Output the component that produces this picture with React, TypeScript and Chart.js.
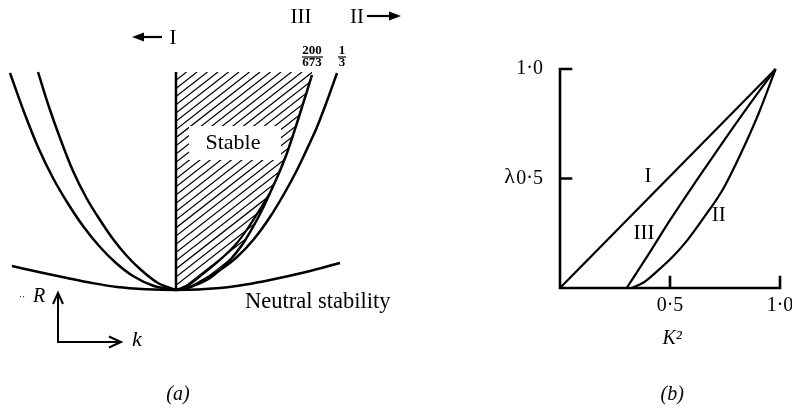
import React, { useEffect, useRef } from "react";
import { Chart, registerables } from "chart.js";
Chart.register(...registerables);

// ---------- Panel (a): curves in the (k, R) plane ----------
const neutralK = [-1.64, -1.35, -1.09, -0.84, -0.59, -0.3, 0, 0.44, 0.7, 0.94, 1.3, 1.64];
const neutralR = [0.24, 0.175, 0.12, 0.07, 0.03, 0.008, 0, 0.02, 0.055, 0.1, 0.18, 0.27];

// curve I (outer, left)
const outerLeftK = [-1.66, -1.52, -1.38, -1.23, -1.09, -0.93, -0.76, -0.6, -0.43, -0.22, 0];
const outerLeftR = [2.17, 1.78, 1.43, 1.12, 0.88, 0.64, 0.43, 0.27, 0.14, 0.04, 0];

// curve I (inner, left)
const innerLeftK = [-1.38, -1.27, -1.16, -1.03, -0.89, -0.76, -0.63, -0.5, -0.36, -0.18, 0];
const innerLeftR = [2.18, 1.83, 1.52, 1.19, 0.91, 0.7, 0.51, 0.35, 0.21, 0.07, 0];

// curve III (200/673), right boundary of the stable (hatched) region
const curveIIIK = [0, 0.14, 0.34, 0.54, 0.66, 0.77, 0.86, 0.94, 1.03, 1.11, 1.21, 1.36];
const curveIIIR = [0, 0.03, 0.12, 0.3, 0.45, 0.63, 0.8, 0.97, 1.17, 1.37, 1.67, 2.15];

// short curve inside the hatched region
const innerRightK = [0, 0.14, 0.27, 0.45, 0.61, 0.72, 0.81, 0.94];
const innerRightR = [0, 0.06, 0.16, 0.31, 0.47, 0.62, 0.76, 0.97];

// curve 1/3
const outerRightK = [0, 0.14, 0.27, 0.44, 0.61, 0.78, 0.94, 1.08, 1.21, 1.31, 1.41, 1.51, 1.61];
const outerRightR = [0, 0.03, 0.1, 0.2, 0.33, 0.51, 0.73, 0.96, 1.2, 1.41, 1.63, 1.89, 2.17];

const axisK = [0, 0];
const axisR = [0, 2.18];

// ---------- Panel (b): lambda vs K^2 ----------
const lineIK2 = [0, 0.98];
const lineILam = [0, 1.0];

const lineIIIK2 = [0.303, 0.4, 0.5, 0.62, 0.75, 0.87, 0.98];
const lineIIILam = [0, 0.15, 0.31, 0.49, 0.68, 0.85, 1.0];

const lineIIK2 = [0.326, 0.38, 0.44, 0.51, 0.58, 0.66, 0.74, 0.82, 0.9, 0.98];
const lineIILam = [0, 0.025, 0.075, 0.14, 0.22, 0.33, 0.45, 0.61, 0.79, 1.0];

const xTickValues = [0.5, 1.0];
const xTickLabels = ["0·5", "1·0"];
const yTickValues = [0.5, 1.0];
const yTickLabels = ["0·5", "1·0"];

const SERIF = '"Liberation Serif", "DejaVu Serif", serif';

function pts(xs: number[], ys: number[]) {
  return xs.map((x, i) => ({ x, y: ys[i] }));
}

function lineDs(xs: number[], ys: number[], width: number, smooth = true) {
  return {
    data: pts(xs, ys),
    showLine: true,
    borderColor: "#000",
    backgroundColor: "#000",
    borderWidth: width,
    pointRadius: 0,
    tension: smooth ? 0.4 : 0,
    cubicInterpolationMode: smooth ? "monotone" : "default",
    fill: false,
    clip: false as any,
  };
}

function text(ctx: CanvasRenderingContext2D, s: string, x: number, y: number, size: number, opts: { italic?: boolean; bold?: boolean; align?: CanvasTextAlign } = {}) {
  ctx.save();
  ctx.fillStyle = "#000";
  ctx.font = `${opts.italic ? "italic " : ""}${opts.bold ? "bold " : ""}${size}px ${SERIF}`;
  ctx.textAlign = opts.align || "center";
  ctx.textBaseline = "middle";
  ctx.fillText(s, x, y);
  ctx.restore();
}

function seg(ctx: CanvasRenderingContext2D, x1: number, y1: number, x2: number, y2: number, w: number) {
  ctx.save();
  ctx.strokeStyle = "#000";
  ctx.lineWidth = w;
  ctx.lineCap = "butt";
  ctx.beginPath();
  ctx.moveTo(x1, y1);
  ctx.lineTo(x2, y2);
  ctx.stroke();
  ctx.restore();
}

function tri(ctx: CanvasRenderingContext2D, p: number[][]) {
  ctx.save();
  ctx.fillStyle = "#000";
  ctx.beginPath();
  ctx.moveTo(p[0][0], p[0][1]);
  ctx.lineTo(p[1][0], p[1][1]);
  ctx.lineTo(p[2][0], p[2][1]);
  ctx.closePath();
  ctx.fill();
  ctx.restore();
}

const III_INDEX = 3;

const hatchPlugin = {
  id: "hatchStable",
  beforeDatasetsDraw(chart: any) {
    const ctx: CanvasRenderingContext2D = chart.ctx;
    const xs = chart.scales.x;
    const ys = chart.scales.y;
    const meta = chart.getDatasetMeta(III_INDEX);
    const line = meta.dataset;
    const x0 = xs.getPixelForValue(0);
    const yb = ys.getPixelForValue(0);
    const yt = ys.getPixelForValue(axisR[1]);
    const xr = xs.getPixelForValue(Math.max(...curveIIIK)) + 4;
    ctx.save();
    ctx.beginPath();
    if (line && typeof line.path === "function") {
      if (typeof line.updateControlPoints === "function") line.updateControlPoints(chart.chartArea, "x");
      line.path(ctx);
    } else {
      curveIIIK.forEach((k, i) => {
        const px = xs.getPixelForValue(k), py = ys.getPixelForValue(curveIIIR[i]);
        if (i === 0) ctx.moveTo(px, py); else ctx.lineTo(px, py);
      });
    }
    ctx.lineTo(xs.getPixelForValue(curveIIIK[curveIIIK.length - 1]), yt);
    ctx.lineTo(x0, yt);
    ctx.closePath();
    ctx.clip();
    ctx.strokeStyle = "#000";
    ctx.lineWidth = 1.2;
    const slope = Math.tan((38 * Math.PI) / 180);
    const h = yb - yt;
    const run = h / slope;
    const spacing = 10.5;
    ctx.beginPath();
    for (let c = x0 - run; c < xr; c += spacing) {
      ctx.moveTo(c, yb);
      ctx.lineTo(c + run, yt);
    }
    ctx.stroke();
    ctx.restore();
    // white box behind the "Stable" label
    ctx.save();
    ctx.fillStyle = "#fff";
    ctx.fillRect(189, 126, 92, 34);
    ctx.restore();
  },
};

const annotA = {
  id: "annotA",
  afterDraw(chart: any) {
    const ctx: CanvasRenderingContext2D = chart.ctx;
    text(ctx, "Stable", 233, 143, 22);
    text(ctx, "Neutral stability", 245, 302, 22.5, { align: "left" });
    // curve labels at the top
    seg(ctx, 140, 37, 162, 37, 2.2);
    tri(ctx, [[132, 37], [144, 32.5], [144, 41.5]]);
    text(ctx, "I", 173, 38, 21);
    text(ctx, "III", 301, 17, 21);
    text(ctx, "II", 357, 17, 21);
    seg(ctx, 367, 16, 392, 16, 2.2);
    tri(ctx, [[401, 16], [389, 11.5], [389, 20.5]]);
    // fractions
    text(ctx, "200", 312, 51, 13, { bold: true });
    seg(ctx, 302, 57, 323, 57, 1.2);
    text(ctx, "673", 312, 63, 13, { bold: true });
    text(ctx, "1", 342, 51, 13, { bold: true });
    seg(ctx, 338, 57, 346, 57, 1.2);
    text(ctx, "3", 342, 63, 13, { bold: true });
    // R / k direction arrows
    seg(ctx, 58, 343, 58, 294, 2);
    seg(ctx, 57, 342, 120, 342, 2);
    ctx.save();
    ctx.strokeStyle = "#000";
    ctx.lineWidth = 2;
    ctx.beginPath();
    ctx.moveTo(53, 304); ctx.lineTo(58, 293); ctx.lineTo(63, 304);
    ctx.moveTo(109, 336.5); ctx.lineTo(121, 342); ctx.lineTo(109, 347.5);
    ctx.stroke();
    ctx.restore();
    text(ctx, "··", 22, 297, 10);
    text(ctx, "R", 39, 297, 20, { italic: true });
    text(ctx, "k", 137, 340, 22, { italic: true });
    text(ctx, "(a)", 178, 395, 20, { italic: true });
  },
};

const axesB = {
  id: "axesB",
  beforeDatasetsDraw(chart: any) {
    const ctx: CanvasRenderingContext2D = chart.ctx;
    const xs = chart.scales.x;
    const ys = chart.scales.y;
    const x0 = xs.getPixelForValue(0);
    const y0 = ys.getPixelForValue(0);
    const x1 = xs.getPixelForValue(1);
    const y1 = ys.getPixelForValue(1);
    ctx.save();
    ctx.strokeStyle = "#000";
    ctx.lineWidth = 2.6;
    ctx.lineCap = "square";
    ctx.beginPath();
    ctx.moveTo(x0, y1);
    ctx.lineTo(x0, y0);
    ctx.lineTo(x1, y0);
    yTickValues.forEach((v) => {
      const py = ys.getPixelForValue(v);
      ctx.moveTo(x0, py);
      ctx.lineTo(x0 + 11, py);
    });
    xTickValues.forEach((v) => {
      const px = xs.getPixelForValue(v);
      ctx.moveTo(px, y0);
      ctx.lineTo(px, y0 - 11);
    });
    ctx.stroke();
    ctx.restore();
  },
  afterDraw(chart: any) {
    const ctx: CanvasRenderingContext2D = chart.ctx;
    const xs = chart.scales.x;
    const ys = chart.scales.y;
    const x0 = xs.getPixelForValue(0);
    const y0 = ys.getPixelForValue(0);
    yTickValues.forEach((v, i) => {
      text(ctx, yTickLabels[i], x0 - 17, ys.getPixelForValue(v), 20, { align: "right" });
    });
    xTickValues.forEach((v, i) => {
      text(ctx, xTickLabels[i], xs.getPixelForValue(v), y0 + 18, 20);
    });
    text(ctx, "λ", x0 - 45, ys.getPixelForValue(0.5) - 1, 22, { align: "right" });
    text(ctx, "K²", xs.getPixelForValue(0.51), y0 + 51, 20, { italic: true });
    text(ctx, "(b)", xs.getPixelForValue(0.51), 395, 20, { italic: true });
    text(ctx, "I", xs.getPixelForValue(0.4), ys.getPixelForValue(0.507), 21);
    text(ctx, "III", xs.getPixelForValue(0.382), ys.getPixelForValue(0.25), 21);
    text(ctx, "II", xs.getPixelForValue(0.722), ys.getPixelForValue(0.333), 21);
  },
};

export default function App() {
  const refA = useRef<HTMLCanvasElement>(null);
  const refB = useRef<HTMLCanvasElement>(null);

  useEffect(() => {
    const common = {
      animation: false as const,
      responsive: false,
      maintainAspectRatio: false,
      events: [] as any[],
      plugins: { legend: { display: false }, tooltip: { enabled: false }, title: { display: false } },
    };
    const chartA = new Chart(refA.current as HTMLCanvasElement, {
      type: "scatter",
      data: {
        datasets: [
          lineDs(neutralK, neutralR, 2.5),
          lineDs(outerLeftK, outerLeftR, 2.5),
          lineDs(innerLeftK, innerLeftR, 2.5),
          lineDs(curveIIIK, curveIIIR, 2.5),
          lineDs(innerRightK, innerRightR, 2.2),
          lineDs(outerRightK, outerRightR, 2.5),
          lineDs(axisK, axisR, 2.5, false),
        ] as any,
      },
      options: {
        ...common,
        layout: { padding: 0 },
        scales: {
          x: { type: "linear", display: false, min: -1.76, max: 3.04 },
          y: { type: "linear", display: false, min: -1.27, max: 2.9 },
        },
      } as any,
      plugins: [hatchPlugin, annotA],
    });
    const chartB = new Chart(refB.current as HTMLCanvasElement, {
      type: "scatter",
      data: {
        datasets: [
          lineDs(lineIK2, lineILam, 2.2, false),
          lineDs(lineIIIK2, lineIIILam, 2.2),
          lineDs(lineIIK2, lineIILam, 2.2),
        ] as any,
      },
      options: {
        ...common,
        layout: { padding: { left: 80, right: 12, top: 69, bottom: 129 } },
        scales: {
          x: { type: "linear", display: false, min: 0, max: 1 },
          y: { type: "linear", display: false, min: 0, max: 1 },
        },
      } as any,
      plugins: [axesB],
    });
    return () => {
      chartA.destroy();
      chartB.destroy();
    };
  }, []);

  return (
    <div style={{ position: "absolute", left: 0, top: 0, width: 792, height: 417, background: "#fff" }}>
      <canvas ref={refA} width={480} height={417} style={{ position: "absolute", left: 0, top: 0, width: 480, height: 417 }} />
      <canvas ref={refB} width={312} height={417} style={{ position: "absolute", left: 480, top: 0, width: 312, height: 417 }} />
    </div>
  );
}
